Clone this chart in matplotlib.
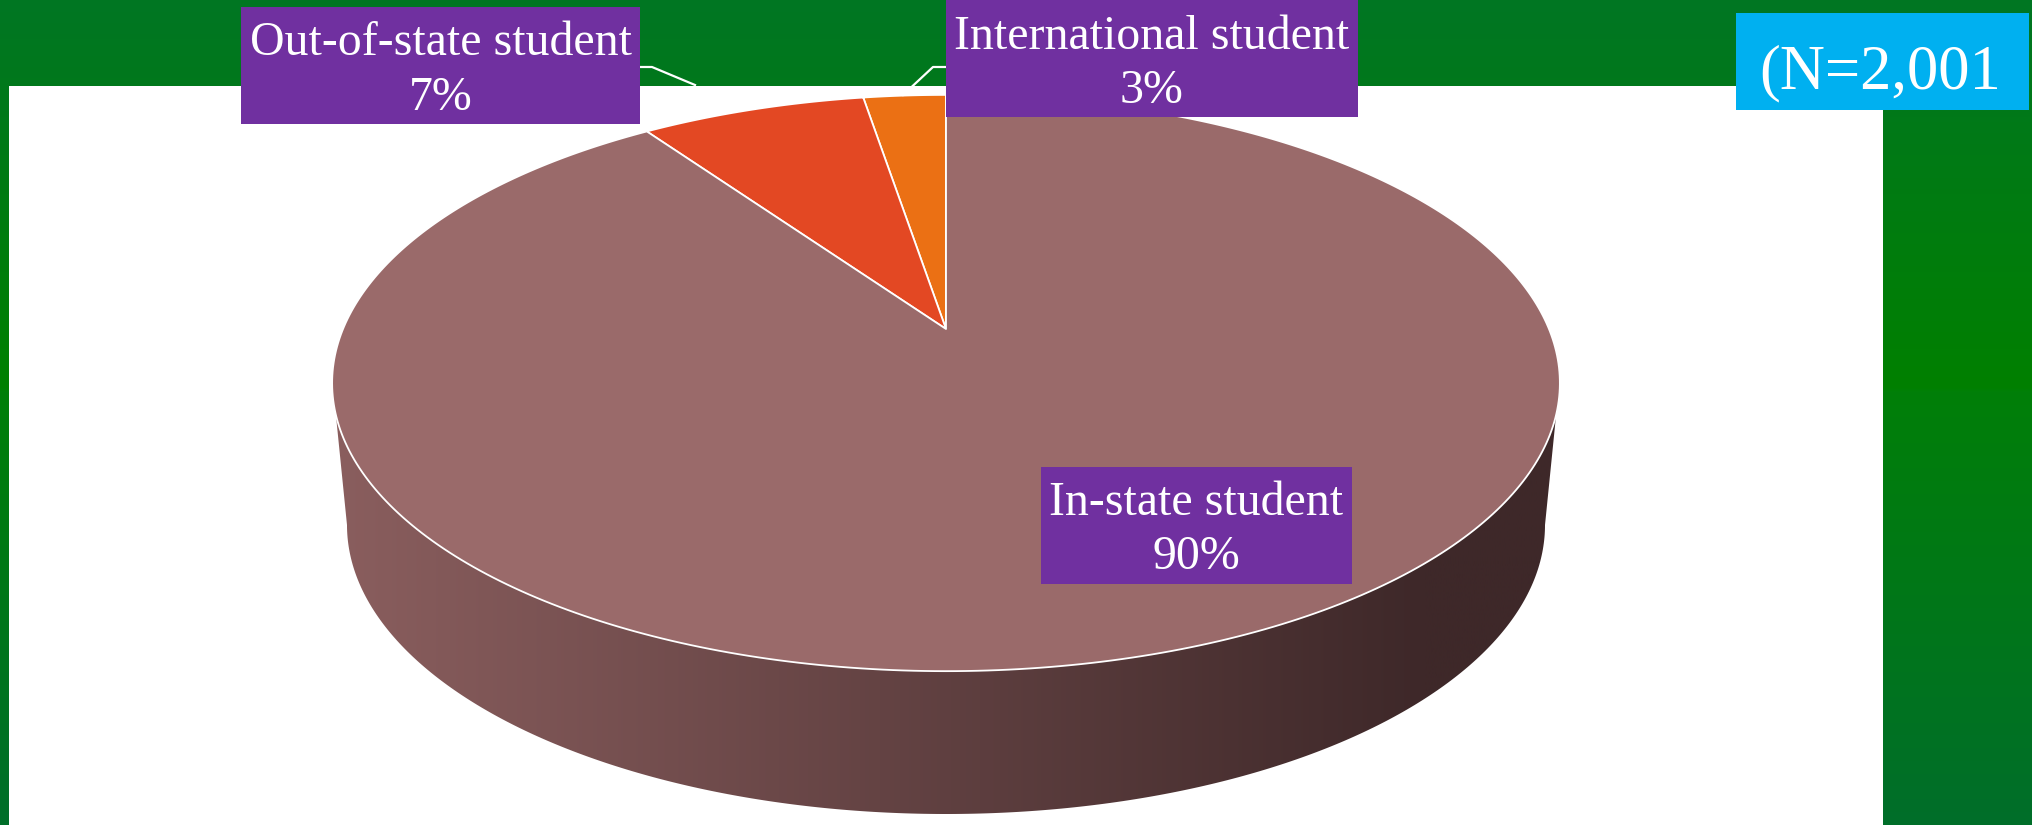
import numpy as np
import matplotlib
matplotlib.use("Agg")
import matplotlib.pyplot as plt
from matplotlib.patches import Polygon, Rectangle

# ---- data ----
categories = ["International student", "Out-of-state student", "In-state student"]
shares = [2.6, 7.1, 90.3]   # slice sizes; labels show them rounded
sample_note = "(N=2,001"
slice_colors = ["#EB7014", "#E34823", "#9A6A6A"]

W, H = 2032, 825
plt.rcParams["font.family"] = ["Liberation Serif", "DejaVu Serif"]
fig = plt.figure(figsize=(W / 100, H / 100), dpi=100)
ax = fig.add_axes([0, 0, 1, 1])
ax.set_xlim(0, W)
ax.set_ylim(H, 0)
ax.axis("off")

# ---- slide background: vertical green gradient and white panel ----
stops_y = np.array([0.0, 0.47, 0.475, 1.0])
stops_c = np.array([[0, 118, 35], [0, 128, 0], [0, 127, 8], [0, 110, 42]]) / 255
yy = np.linspace(0, 1, 825)
grad = np.stack([np.interp(yy, stops_y, stops_c[:, i]) for i in range(3)], axis=1)[:, None, :]
ax.imshow(grad, extent=(0, W, H, 0), aspect="auto", zorder=0, interpolation="bilinear")
ax.add_patch(Rectangle((9, 85.5), 1883 - 9, H - 85.5, fc="white", ec="none", zorder=1))

# ---- 3D pie geometry: a circle seen in perspective ----
APEX_X, APEX_Y = 946, 329
A, B, K = 603, 278, 0.1875


def project(theta_deg):
    """theta counter-clockwise from twelve o'clock -> screen position."""
    t = np.radians(theta_deg)
    u, v = -np.sin(t), np.cos(t)
    w = 1 + K * v
    return APEX_X + A * u / w, APEX_Y - B * v / w


# side wall, drawn first, with horizontal gradient
LOW_CY, LOW_A, LOW_B = 525, 599, 289
s = np.linspace(0, 180, 300)
lx = APEX_X - LOW_A * np.cos(np.radians(s))
ly = LOW_CY + LOW_B * np.sin(np.radians(s))
tx, ty = project(np.linspace(107, 253, 400))
side = np.concatenate([np.column_stack([tx, ty]), np.column_stack([lx, ly])[::-1]])
side_patch = Polygon(side, closed=True, fc="none", ec="none", zorder=2, transform=ax.transData)
ax.add_patch(side_patch)
gx = np.linspace(330, 1562, 500)
c0, c1 = np.array([138, 94, 94]) / 255, np.array([62, 40, 41]) / 255
f = np.clip((gx - 334) / (1425 - 334), 0, 1)[None, :, None]
side_img = c0[None, None, :] * (1 - f) + c1[None, None, :] * f
im = ax.imshow(side_img, extent=(330, 1562, H, 300), aspect="auto", zorder=2)
im.set_clip_path(side_patch)
ax.set_xlim(0, W)
ax.set_ylim(H, 0)

# top face slices
edges = np.cumsum([0] + shares) * 3.6
for i in range(len(shares)):
    th = np.linspace(edges[i], edges[i + 1], 400)
    x, y = project(th)
    pts = np.vstack([[APEX_X, APEX_Y], np.column_stack([x, y])])
    ax.add_patch(Polygon(pts, closed=True, fc=slice_colors[i], ec="white", lw=1.3,
                         joinstyle="round", zorder=3))

# ---- leader lines ----
ax.plot([640, 652, 695], [67, 67, 85], color="white", lw=1.6, zorder=4)
ax.plot([946, 933, 903], [67, 67, 95], color="white", lw=1.6, zorder=4)

# ---- labels ----
boxes = {
    "International student": ((946, 0), 412, 117, 1152, 37, 91),
    "Out-of-state student": ((241, 7), 399, 117, 441, 43, 98),
    "In-state student": ((1041, 467), 311, 117, 1196, 503, 557),
}
fs = 34.5
for name, pct in zip(categories, shares):
    (bx, by), bw, bh, tcx, y1, y2 = boxes[name]
    ax.add_patch(Rectangle((bx, by), bw, bh, fc="#7030A0", ec="none", zorder=5))
    ax.text(tcx, y1, name, color="white", fontsize=fs, ha="center", va="center", zorder=6)
    ax.text(tcx, y2, f"{round(pct)}%", color="white", fontsize=fs, ha="center", va="center", zorder=6)

ax.add_patch(Rectangle((1736, 13), 293, 97, fc="#00B0F0", ec="none", zorder=5))
ax.text(1880, 73, sample_note, color="white", fontsize=45, ha="center", va="center", zorder=6)

fig.savefig("out.png", dpi=100)
